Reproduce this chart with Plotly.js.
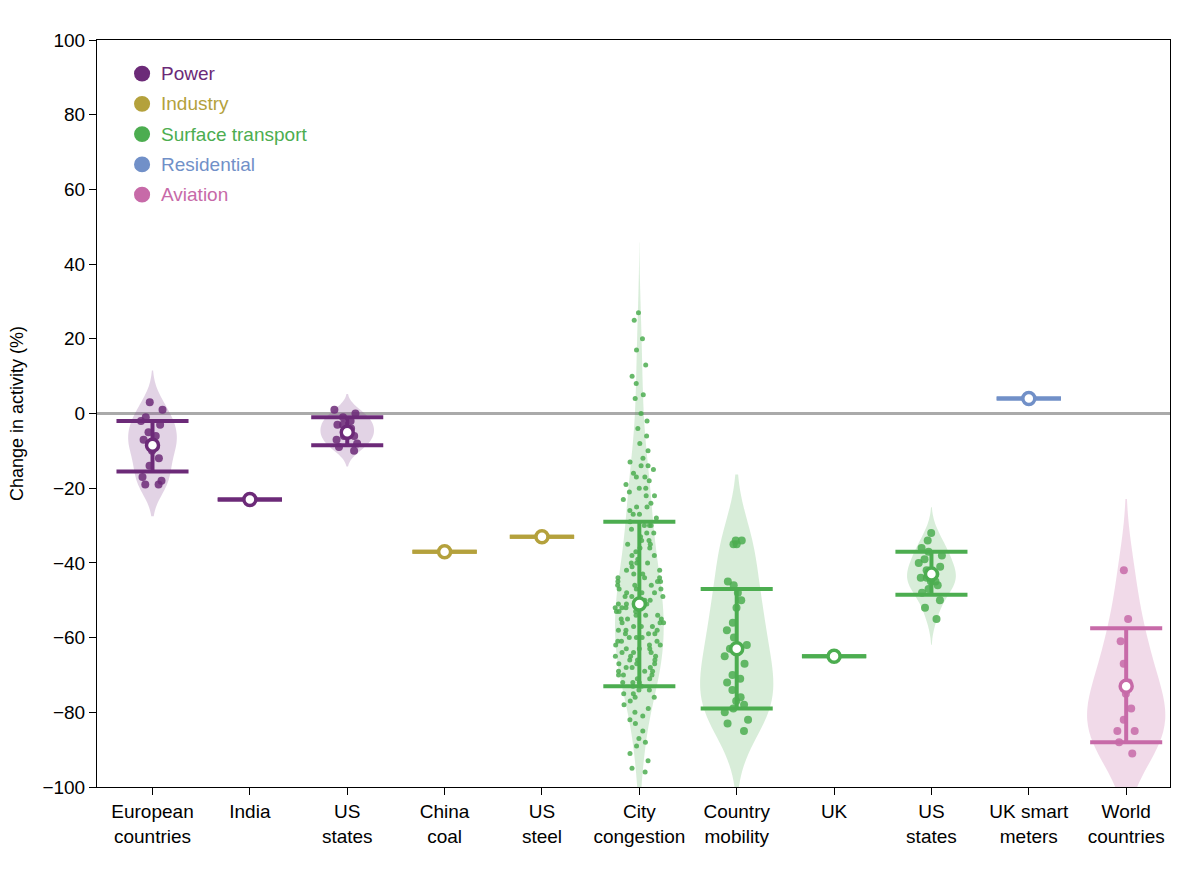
<!DOCTYPE html>
<html>
<head>
<meta charset="utf-8">
<script src="https://cdn.plot.ly/plotly-3.0.1.min.js"></script>
<style>body{margin:0;background:#fff}</style>
</head>
<body>
<div id="chart" style="width:1200px;height:879px"></div>
<script>
// categories (x positions 0..10)
var labels = ['European<br>countries', 'India', 'US<br>states', 'China<br>coal', 'US<br>steel', 'City<br>congestion', 'Country<br>mobility', 'UK', 'US<br>states', 'UK smart<br>meters', 'World<br>countries'];
var sector = ['power', 'power', 'power', 'industry', 'industry', 'transport', 'transport', 'transport', 'transport', 'residential', 'aviation'];

// quartiles [upper, median, lower]
var q3 = [-2, -23, -1, -37, -33, -29, -47, -65, -37, 4, -57.5];
var med = [-8.5, -23, -5, -37, -33, -51, -63, -65, -43, 4, -73];
var q1 = [-15.5, -23, -8.5, -37, -33, -73, -79, -65, -48.5, 4, -88];

// individual values for the multi-point groups
var euroPower = [3, 1, -1, -2, -3, -5, -6, -7, -8, -9, -10, -12, -14, -17, -18, -19, -19];
var usPower = [1, 0, -1, -2, -3, -3, -4, -5, -6, -6, -7, -8, -9, -10];
var cityCongestion = [27, 25, 20, 17, 13, 10, 8, 5, 4, 0, -2, -4, -6, -8, -10, -12, -13, -14, -14, -15, -16, -17, -17, -18, -19, -20, -20, -21, -22, -22, -23, -24, -25, -25, -26, -27, -27, -28, -29, -30, -30, -31, -32, -32, -33, -34, -34, -35, -36, -36, -37, -38, -38, -39, -40, -40, -41, -42, -42, -43, -44, -44, -45, -45, -46, -46, -47, -47, -48, -48, -49, -49, -50, -50, -51, -51, -52, -52, -53, -53, -54, -54, -55, -55, -56, -56, -57, -57, -58, -58, -59, -59, -60, -60, -61, -61, -62, -62, -63, -63, -64, -64, -65, -65, -66, -66, -67, -67, -68, -68, -69, -69, -70, -70, -71, -71, -72, -72, -73, -73, -74, -74, -75, -75, -76, -76, -77, -78, -79, -80, -81, -82, -83, -85, -87, -88, -89, -91, -93, -95, -96, -45, -47, -50, -52, -55, -57, -60, -62, -65, -67, -48, -53, -58, -63, -68, -46, -51, -56, -61, -66, -30, -35, -40, -43, -70, -72, -44, -49, -54, -59, -64, -69];
var countryMobility = [-34, -34, -35, -35, -45, -46, -48, -50, -52, -56, -58, -60, -62, -63, -65, -67, -70, -71, -72, -74, -76, -77, -78, -79, -80, -82, -83, -85];
var usTransport = [-32, -34, -36, -37, -38, -39, -40, -41, -42, -43, -44, -44, -45, -45, -46, -47, -48, -50, -52, -55];
var worldAviation = [-42, -55, -61, -67, -72, -75, -79, -82, -85, -85, -88, -91];

var colors = {power: '#6c2a78', industry: '#b4a13c', transport: '#4cad50', residential: '#7190c8', aviation: '#c76aa8'};
var fills = {power: 'rgba(140,80,150,0.25)', industry: 'rgba(180,160,60,0.25)', transport: 'rgba(76,173,80,0.22)', residential: 'rgba(113,144,200,0.25)', aviation: 'rgba(199,106,168,0.25)'};

var groups = [
  {x: 0, y: euroPower, w: 0.5, size: 8, jit: 0.5},
  {x: 2, y: usPower, w: 0.55, size: 8, jit: 0.5},
  {x: 5, y: cityCongestion, w: 0.5, size: 5, jit: 1},
  {x: 6, y: countryMobility, w: 0.75, size: 8, jit: 0.4},
  {x: 8, y: usTransport, w: 0.5, size: 8, jit: 0.6},
  {x: 10, y: worldAviation, w: 0.8, size: 8, jit: 0.3}
];

var data = [];
groups.forEach(function(g) {
  var s = sector[g.x];
  data.push({
    type: 'violin',
    x: g.y.map(function() { return g.x; }),
    y: g.y,
    width: g.w,
    scalemode: 'width',
    points: 'all',
    pointpos: 0,
    jitter: g.jit,
    fillcolor: fills[s],
    line: {width: 0, color: fills[s]},
    marker: {color: colors[s], size: g.size, opacity: 0.85, line: {width: 0}},
    box: {visible: false},
    meanline: {visible: false},
    hoverinfo: 'y',
    showlegend: false
  });
});

// quartile bars, whisker and median marker
for (var i = 0; i < labels.length; i++) {
  var c = colors[sector[i]];
  var hw = (q3[i] === q1[i]) ? 0.33 : 0.37;
  data.push({
    type: 'scatter', mode: 'lines',
    x: [i - hw, i + hw, null, i - hw, i + hw, null, i, i],
    y: [q3[i], q3[i], null, q1[i], q1[i], null, q3[i], q1[i]],
    line: {color: c, width: 4},
    hoverinfo: 'skip', showlegend: false
  });
  data.push({
    type: 'scatter', mode: 'markers',
    x: [i], y: [med[i]],
    marker: {color: 'white', size: 12, line: {color: c, width: 3.5}},
    hoverinfo: 'y', showlegend: false
  });
}

var legendItems = [['Power', 'power'], ['Industry', 'industry'], ['Surface transport', 'transport'], ['Residential', 'residential'], ['Aviation', 'aviation']];
var annotations = [];
var shapes = [{type: 'line', xref: 'paper', x0: 0, x1: 1, yref: 'y', y0: 0, y1: 0, line: {color: '#aaaaaa', width: 3}, layer: 'below'}];
legendItems.forEach(function(it, k) {
  var yy = 0.955 - k * 0.0405;
  shapes.push({type: 'circle', xref: 'paper', yref: 'paper', x0: 0.0345, x1: 0.0495, y0: yy - 0.0105, y1: yy + 0.0105, fillcolor: colors[it[1]], line: {width: 0}});
  annotations.push({xref: 'paper', yref: 'paper', x: 0.058, y: yy, text: it[0], showarrow: false, xanchor: 'left', yanchor: 'middle', font: {size: 19, color: colors[it[1]]}});
});

var layout = {
  width: 1200, height: 879,
  margin: {l: 97, r: 30, t: 40, b: 92},
  paper_bgcolor: 'white', plot_bgcolor: 'white',
  font: {family: 'Liberation Sans, Arial, sans-serif', size: 19, color: '#000'},
  xaxis: {
    range: [-0.57, 10.45], tickvals: labels.map(function(l, i) { return i; }), ticktext: labels,
    showgrid: false, zeroline: false, showline: true, mirror: true, linecolor: '#000', linewidth: 1,
    ticks: 'outside', ticklen: 7, tickcolor: '#000', tickfont: {size: 19}
  },
  yaxis: {
    range: [-100, 100], dtick: 20, title: {text: 'Change in activity (%)', font: {size: 18}, standoff: 14},
    showgrid: false, zeroline: false, showline: true, mirror: true, linecolor: '#000', linewidth: 1,
    ticks: 'outside', ticklen: 7, tickcolor: '#000', tickfont: {size: 19}
  },
  shapes: shapes,
  annotations: annotations,
  showlegend: false
};

Plotly.newPlot('chart', data, layout, {displayModeBar: false, staticPlot: true});
</script>
</body>
</html>
